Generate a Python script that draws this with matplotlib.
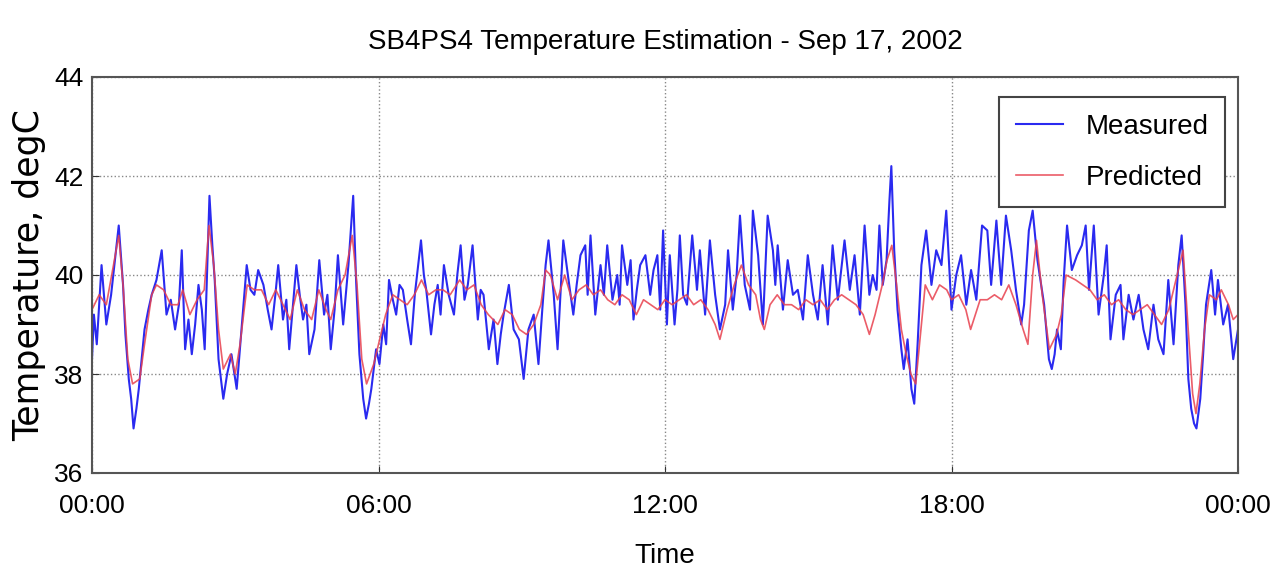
import matplotlib
matplotlib.use('Agg')
import matplotlib.pyplot as plt

# measured temperature (hours since midnight, degC)
t_meas = [0.0, 0.04, 0.1, 0.2, 0.3, 0.4, 0.56, 0.65, 0.7, 0.77, 0.82, 0.87, 0.93, 0.98,
          1.04, 1.1, 1.18, 1.25, 1.35, 1.46, 1.56, 1.65, 1.74, 1.82, 1.88, 1.95, 2.02, 2.09,
          2.16, 2.23, 2.3, 2.36, 2.46, 2.52, 2.57, 2.65, 2.75, 2.83, 2.92, 3.03, 3.13, 3.24,
          3.32, 3.4, 3.48, 3.59, 3.68, 3.76, 3.84, 3.9,
          4.0, 4.07, 4.13, 4.2, 4.28, 4.35, 4.42, 4.49, 4.55, 4.66, 4.76, 4.86, 4.93, 5.0,
          5.08, 5.15, 5.26, 5.37, 5.47, 5.53, 5.6, 5.68, 5.74, 5.8, 5.85, 5.95, 6.02, 6.1,
          6.16, 6.22, 6.3, 6.37, 6.44, 6.51, 6.6, 6.68, 6.76, 6.83, 6.89, 6.95, 7.0, 7.1,
          7.17, 7.24, 7.3, 7.37, 7.47, 7.58, 7.65, 7.72, 7.8,
          7.87, 7.97, 8.08, 8.14, 8.2, 8.26, 8.31, 8.41, 8.49, 8.56, 8.62, 8.73, 8.83, 8.94,
          9.04, 9.14, 9.25, 9.35, 9.43, 9.5, 9.56, 9.67, 9.75, 9.87, 9.98, 10.08, 10.15,
          10.23, 10.33, 10.38, 10.44, 10.54, 10.65, 10.72, 10.79, 10.9, 11.0, 11.05, 11.1,
          11.21, 11.28, 11.34, 11.41, 11.48, 11.59, 11.69, 11.76, 11.84, 11.9,
          11.96, 12.04, 12.1, 12.2, 12.26, 12.31, 12.38, 12.46, 12.57, 12.67, 12.73, 12.84,
          12.94, 13.05, 13.15, 13.26, 13.32, 13.42, 13.5, 13.57, 13.67, 13.78, 13.84, 13.95,
          14.05, 14.15, 14.26, 14.31, 14.36, 14.47, 14.57, 14.68, 14.78, 14.89, 14.99, 15.1,
          15.2, 15.3, 15.41, 15.51, 15.62, 15.76,
          15.87, 15.97, 16.08, 16.18, 16.28, 16.35, 16.43, 16.49, 16.56, 16.64, 16.7, 16.74,
          16.8, 16.87, 16.95, 17.0, 17.08, 17.16, 17.22, 17.29, 17.37, 17.47, 17.58, 17.68,
          17.79, 17.89, 18.0, 18.1, 18.2, 18.31, 18.41, 18.52, 18.64, 18.75, 18.83, 18.94,
          19.04, 19.14, 19.25, 19.35, 19.46, 19.52, 19.62, 19.7, 19.8,
          19.94, 20.04, 20.1, 20.16, 20.21, 20.29, 20.35, 20.42, 20.52, 20.63, 20.73, 20.81,
          20.88, 20.98, 21.08, 21.19, 21.25, 21.33, 21.44, 21.54, 21.6, 21.71, 21.81, 21.92,
          22.02, 22.12, 22.23, 22.33, 22.44, 22.54, 22.65, 22.75, 22.82, 22.9, 22.96, 23.02,
          23.08, 23.13, 23.21, 23.27, 23.33, 23.44, 23.52, 23.58, 23.69, 23.79, 23.9, 24.0]
measured = [38.3, 39.2, 38.6, 40.2, 39.0, 39.6, 41.0, 39.8, 38.8, 37.9, 37.5, 36.9, 37.3, 37.7,
            38.3, 38.9, 39.3, 39.6, 39.9, 40.5, 39.2, 39.5, 38.9, 39.4, 40.5, 38.5, 39.1, 38.4,
            39.0, 39.8, 39.3, 38.5, 41.6, 40.6, 39.9, 38.3, 37.5, 38.0, 38.4, 37.7, 38.9, 40.2,
            39.7, 39.6, 40.1, 39.8, 39.3, 38.9, 39.6, 40.2,
            39.1, 39.5, 38.5, 39.3, 40.2, 39.6, 39.1, 39.4, 38.4, 38.9, 40.3, 39.2, 39.6, 38.5,
            39.3, 40.4, 39.0, 40.2, 41.6, 39.9, 38.4, 37.5, 37.1, 37.4, 37.7, 38.5, 38.2, 39.0,
            38.6, 39.9, 39.5, 39.2, 39.8, 39.7, 39.1, 38.6, 39.6, 40.2, 40.7, 40.0, 39.7, 38.8,
            39.4, 39.8, 39.2, 40.2, 39.6, 39.2, 40.0, 40.6, 39.5,
            39.8, 40.6, 39.1, 39.7, 39.6, 39.0, 38.5, 39.1, 38.2, 38.8, 39.2, 39.8, 38.9, 38.7,
            37.9, 38.9, 39.2, 38.2, 39.3, 40.2, 40.7, 39.6, 38.5, 40.7, 39.9, 39.2, 39.8,
            40.4, 40.6, 39.6, 40.8, 39.2, 40.2, 39.6, 40.6, 39.5, 40.0, 39.4, 40.6,
            39.8, 40.3, 39.1, 39.7, 40.2, 40.4, 39.6, 40.1, 40.4, 39.3,
            40.9, 39.0, 40.4, 39.0, 39.7, 40.8, 39.6, 39.4, 40.8, 39.7, 40.5, 39.2,
            40.7, 39.6, 38.9, 39.4, 40.5, 39.3, 40.0, 41.2, 39.8, 39.3, 41.3, 40.4,
            39.0, 41.2, 40.5, 39.8, 40.6, 39.3, 40.3, 39.6, 39.7, 39.1, 40.4, 39.6,
            39.1, 40.2, 39.0, 40.6, 39.5, 40.7,
            39.7, 40.4, 39.2, 41.0, 39.6, 40.0, 39.7, 41.0, 39.8, 40.3, 41.5, 42.2,
            40.5, 39.3, 38.5, 38.1, 38.7, 37.7, 37.4, 38.6, 40.2, 40.9, 39.8, 40.5,
            40.2, 41.3, 39.3, 40.0, 40.4, 39.4, 40.1, 39.5, 41.0, 40.9, 39.8, 41.1,
            39.8, 41.2, 40.5, 39.7, 39.0, 39.4, 40.9, 41.3, 40.3,
            39.4, 38.3, 38.1, 38.4, 38.9, 38.5, 39.9, 41.0, 40.1, 40.4, 40.6, 41.0,
            39.7, 41.0, 39.2, 40.0, 40.6, 38.7, 39.6, 39.8, 38.7, 39.6, 39.1, 39.6,
            38.9, 38.5, 39.4, 38.7, 38.4, 39.9, 38.6, 40.2, 40.8, 39.4, 37.9, 37.3,
            37.0, 36.9, 37.5, 38.4, 39.4, 40.1, 39.2, 39.9, 39.0, 39.4, 38.3, 38.9]

# predicted temperature
t_pred = [0.0, 0.15, 0.3, 0.45, 0.56, 0.65, 0.75, 0.85, 1.0, 1.1, 1.25, 1.35, 1.5, 1.65,
          1.8, 1.9, 2.05, 2.2, 2.35, 2.45, 2.55, 2.65, 2.75, 2.9, 3.0, 3.1, 3.25, 3.4, 3.55,
          3.7, 3.85, 4.0, 4.15, 4.3, 4.45, 4.6, 4.75, 4.9, 5.0, 5.15, 5.3, 5.45, 5.55, 5.65,
          5.75, 5.9, 6.0, 6.15, 6.3, 6.45, 6.6, 6.75, 6.9, 7.05, 7.2, 7.35, 7.5, 7.7, 7.85,
          8.0, 8.15, 8.3, 8.5, 8.65, 8.8, 8.95, 9.1, 9.25, 9.4, 9.5, 9.6, 9.75, 9.9, 10.05,
          10.2, 10.35, 10.5, 10.65, 10.8, 10.95, 11.1, 11.25, 11.4, 11.55, 11.7, 11.85, 12.0,
          12.15, 12.3, 12.45, 12.6, 12.75, 12.9, 13.05, 13.15, 13.3, 13.45, 13.6, 13.75, 13.9,
          14.0, 14.08, 14.2, 14.35, 14.5, 14.65, 14.8, 14.95, 15.1, 15.25, 15.4, 15.55, 15.7,
          15.85, 16.0, 16.15, 16.28, 16.4, 16.55, 16.65, 16.75, 16.85, 16.95, 17.05, 17.15,
          17.25, 17.35, 17.45, 17.6, 17.75, 17.9, 18.0, 18.15, 18.3, 18.4, 18.5, 18.6, 18.75,
          18.9, 19.05, 19.2, 19.35, 19.5, 19.6, 19.7, 19.78, 19.9, 20.05, 20.2, 20.3, 20.4,
          20.6, 20.75, 20.9, 21.05, 21.2, 21.35, 21.5, 21.65, 21.8, 21.95, 22.1, 22.25, 22.4,
          22.55, 22.7, 22.85, 22.95, 23.05, 23.12, 23.2, 23.3, 23.4, 23.55, 23.65, 23.8, 23.9,
          24.0]
predicted = [39.3, 39.6, 39.4, 40.2, 40.8, 39.8, 38.3, 37.8, 37.9, 38.6, 39.6, 39.8, 39.7, 39.4,
             39.4, 39.7, 39.2, 39.5, 39.7, 41.0, 40.2, 38.9, 38.1, 38.4, 38.0, 38.6, 39.8, 39.7, 39.7,
             39.4, 39.7, 39.4, 39.1, 39.7, 39.3, 39.1, 39.7, 39.3, 39.1, 39.7, 40.0, 40.8, 39.8, 38.3,
             37.8, 38.2, 38.6, 39.2, 39.6, 39.5, 39.4, 39.6, 39.9, 39.6, 39.7, 39.7, 39.6, 39.9, 39.7,
             39.8, 39.4, 39.2, 39.0, 39.3, 39.2, 38.9, 38.8, 39.0, 39.4, 40.1, 40.0, 39.5, 40.0, 39.5,
             39.7, 39.8, 39.6, 39.7, 39.5, 39.4, 39.6, 39.5, 39.2, 39.5, 39.4, 39.3, 39.5,
             39.4, 39.5, 39.6, 39.4, 39.5, 39.3, 39.0, 38.7, 39.3, 39.8, 40.2, 39.8, 39.6,
             39.1, 38.9, 39.4, 39.6, 39.4, 39.4, 39.3, 39.5, 39.4, 39.5, 39.3, 39.5, 39.6,
             39.5, 39.4, 39.2, 38.8, 39.2, 39.8, 40.3, 40.6, 39.8, 38.9, 38.4, 38.0,
             37.8, 38.8, 39.8, 39.5, 39.8, 39.7, 39.5, 39.6, 39.3, 38.9, 39.2, 39.5, 39.5,
             39.6, 39.5, 39.8, 39.4, 38.9, 38.6, 40.0, 40.7, 39.6, 38.5, 38.8, 39.2, 40.0,
             39.9, 39.8, 39.7, 39.5, 39.6, 39.4, 39.5, 39.3, 39.2, 39.3, 39.4, 39.2, 39.0,
             39.3, 39.9, 40.5, 39.0, 37.6, 37.2, 37.8, 38.9, 39.6, 39.5, 39.7, 39.4, 39.1,
             39.2]

tick_hours = [0, 6, 12, 18, 24]
tick_labels = ['00:00', '06:00', '12:00', '18:00', '00:00']
y_ticks = [36, 38, 40, 42, 44]

font = ['Liberation Sans', 'DejaVu Sans']

fig = plt.figure(figsize=(12.74, 5.80), dpi=100)
ax = fig.add_axes([92/1274, 1 - 473/580, (1238 - 92)/1274, (473 - 77)/580])

ax.plot(t_meas, measured, color='#2a2af0', lw=1.5, label='Measured')
ax.plot(t_pred, predicted, color='#e8404e', lw=1.2, alpha=0.85, label='Predicted')

ax.set_xlim(0, 24)
ax.set_ylim(36, 44)
ax.set_xticks(tick_hours)
ax.set_xticklabels(tick_labels, family=font, fontsize=19)
ax.set_yticks(y_ticks)
ax.set_yticklabels([str(v) for v in y_ticks], family=font, fontsize=19)
ax.tick_params(direction='in', length=5, color='#333333')
ax.tick_params(axis='x', pad=15)
ax.tick_params(axis='y', pad=6)
ax.grid(True, linestyle=':', color='#888888', linewidth=1.0)
for s in ax.spines.values():
    s.set_color('#555555')
    s.set_linewidth(1.5)

ax.set_title('SB4PS4 Temperature Estimation - Sep 17, 2002', family=font,
             fontsize=20, pad=20)
ax.set_xlabel('Time', family=font, fontsize=20, labelpad=18)
ax.set_ylabel('Temperature, degC', family='DejaVu Sans', fontsize=25, labelpad=6)

leg = ax.legend(loc='upper right', bbox_to_anchor=(0.9887, 0.9495),
                borderaxespad=0, prop={'family': font, 'size': 20},
                handlelength=1.7, labelspacing=0.9, borderpad=0.6,
                fancybox=False, framealpha=1)
leg.get_frame().set_edgecolor('#444444')
leg.get_frame().set_linewidth(1.5)

plt.savefig('out.png', dpi=100)
